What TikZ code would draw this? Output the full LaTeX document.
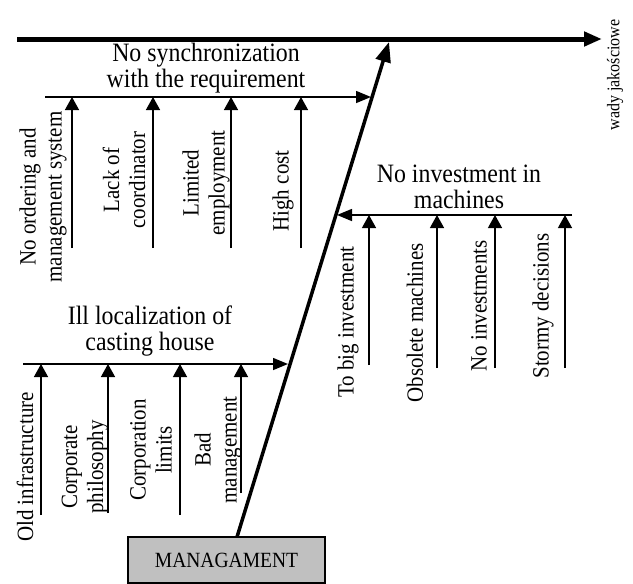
\documentclass[tikz,border=0pt]{standalone}
\usepackage{fontspec}
\setmainfont{Liberation Serif}[FakeStretch=0.9]
\usetikzlibrary{arrows.meta}
\definecolor{boxgray}{RGB}{192,192,192}
\tikzset{
  title/.style={align=center, inner sep=0pt, font=\fontsize{26.5}{26.5}\selectfont},
  lbl/.style={align=center, inner sep=0pt, rotate=90, font=\fontsize{23.3}{26}\selectfont},
  subarrow/.style={line width=1.3pt, -{Triangle[length=13pt,width=14pt]}},
  brancharrow/.style={line width=1.5pt, -{Triangle[length=15pt,width=12pt]}},
  diagarrow/.style={line width=3.5pt, -{Triangle[length=20pt,width=15pt]}},
  spinearrow/.style={line width=5pt, -{Triangle[length=18pt,width=14pt]}},
  mgmtbox/.style={draw, line width=1.2pt, fill=boxgray, minimum width=197pt, minimum height=46pt, inner sep=0pt, font=\fontsize{21.7}{24}\selectfont}
}
\begin{document}
\begin{tikzpicture}[x=1pt,y=-1pt]
\useasboundingbox (0,0) rectangle (633,584);
% spine
\coordinate (spL) at (17,39);
\coordinate (spR) at (602,39);
\draw[spinearrow] (spL) -- (spR);
\node[font=\fontsize{17.8}{20}\selectfont, rotate=90, inner sep=0pt] (effect) at (615,75) {wady jakościowe};
% management box and diagonal
\node[mgmtbox] (mgmt) at (226.5,560) {MANAGAMENT};
\coordinate (diagB) at (237,537);
\coordinate (diagT) at (389,42);
\draw[diagarrow] (diagB) -- (diagT);
% top branch
\coordinate (b1s) at (45,97);
\coordinate (b1e) at (371,97);
\draw[brancharrow] (b1s) -- (b1e);
\node[title] (t1) at (206,68) {No synchronization\\with the requirement};
\foreach \n/\x in {a/72,b/153,c/231,d/301}{
  \coordinate (s1\n) at (\x,248);
  \coordinate (e1\n) at (\x,97);
  \draw[subarrow] (s1\n) -- (e1\n);
}
\node[lbl] (l1a) at (43,197) {No ordering and\\management system};
\node[lbl] (l1b) at (124,180) {Lack of\\coordinator};
\node[lbl] (l1c) at (206,183) {Limited\\employment};
\node[lbl] (l1d) at (283,191) {High cost};
% right branch
\coordinate (b2s) at (572,215);
\coordinate (b2e) at (337,215);
\draw[brancharrow] (b2s) -- (b2e);
\node[title] (t2) at (459,187) {No investment in\\machines};
\foreach \n/\x/\y in {a/369/365,b/437/368,c/495/368,d/565/368}{
  \coordinate (s2\n) at (\x,\y);
  \coordinate (e2\n) at (\x,215);
  \draw[subarrow] (s2\n) -- (e2\n);
}
\node[lbl] (l2a) at (348,322) {To big investment};
\node[lbl] (l2b) at (415,323) {Obsolete machines};
\node[lbl] (l2c) at (479,306) {No investments};
\node[lbl] (l2d) at (543,306) {Stormy decisions};
% left bottom branch
\coordinate (b3s) at (23,364);
\coordinate (b3e) at (288,364);
\draw[brancharrow] (b3s) -- (b3e);
\node[title] (t3) at (150,331) {Ill localization of\\casting house};
\foreach \n/\x/\y in {a/41/515,b/108/513,c/180/515,d/241/493}{
  \coordinate (s3\n) at (\x,\y);
  \coordinate (e3\n) at (\x,364);
  \draw[subarrow] (s3\n) -- (e3\n);
}
\node[lbl] (l3a) at (25,467) {Old infrastructure};
\node[lbl] (l3b) at (85,467) {Corporate\\philosophy};
\node[lbl] (l3c) at (151,450) {Corporation\\limits};
\node[lbl] (l3d) at (218,450) {Bad\\management};
\end{tikzpicture}
\end{document}
